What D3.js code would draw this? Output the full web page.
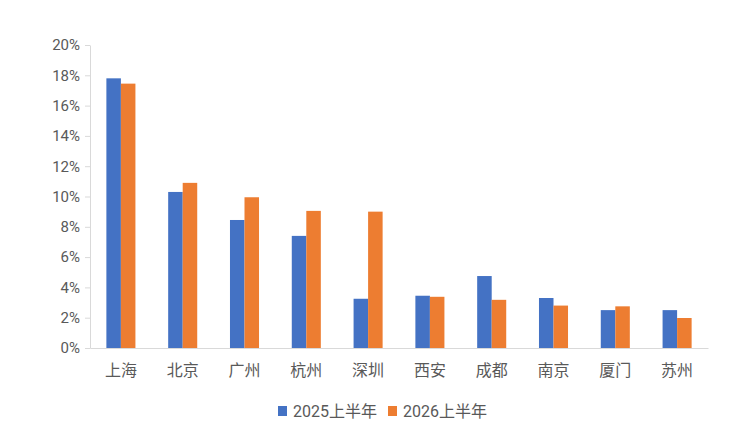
<!DOCTYPE html>
<html>
<head>
<meta charset="utf-8">
<script src="https://cdn.jsdelivr.net/npm/d3@7"></script>
<style>
  body { margin: 0; background: #fff; }
  text { font-family: Roboto, "Noto Sans CJK SC", sans-serif; fill: #595959; }
</style>
</head>
<body>
<div id="chart"></div>
<script>
// data
const cities = ['上海', '北京', '广州', '杭州', '深圳', '西安', '成都', '南京', '厦门', '苏州'];
const series = ['2025上半年', '2026上半年'];
const h1_2025 = [17.8, 10.3, 8.45, 7.4, 3.25, 3.45, 4.75, 3.3, 2.5, 2.5];
const h1_2026 = [17.45, 10.9, 9.95, 9.05, 9.0, 3.38, 3.18, 2.8, 2.75, 1.98];
const yTicks = [0, 2, 4, 6, 8, 10, 12, 14, 16, 18, 20];
const colors = ['#4472C4', '#ED7D31'];

const dms = { width: 740, height: 434, margin: { top: 45, right: 32, bottom: 86, left: 90 } };
dms.contentWidth = dms.width - dms.margin.left - dms.margin.right;
dms.contentHeight = dms.height - dms.margin.top - dms.margin.bottom;

const svg = d3.select('#chart').append('svg')
    .attr('width', dms.width)
    .attr('height', dms.height);

const content = svg.append('g')
    .attr('transform', `translate(${dms.margin.left},${dms.margin.top})`);

const x = d3.scaleBand().domain(cities).range([0, dms.contentWidth]).paddingInner(0.53).paddingOuter(0.265);
const xSub = d3.scaleBand().domain(series).range([0, x.bandwidth()]);
const y = d3.scaleLinear().domain([0, 20]).range([dms.contentHeight, 0]);

const rows = cities.map((c, i) => ({ city: c, vals: [h1_2025[i], h1_2026[i]] }));

// y axis
const yAxis = content.append('g')
    .call(d3.axisLeft(y).tickValues(yTicks).tickFormat(d => d + '%').tickSize(5).tickSizeOuter(0));
yAxis.select('.domain').attr('stroke', '#d9d9d9');
yAxis.selectAll('.tick line').attr('stroke', '#d9d9d9');
yAxis.selectAll('.tick text').attr('x', -10).style('font-size', '15px').attr('fill', '#595959');

// bars
const groups = content.selectAll('.city')
    .data(rows)
    .join('g')
    .attr('class', 'city')
    .attr('transform', d => `translate(${x(d.city)},0)`);

groups.selectAll('rect')
    .data(d => d.vals.map((v, k) => ({ key: series[k], v: v, k: k })))
    .join('rect')
    .attr('x', d => xSub(d.key))
    .attr('width', xSub.bandwidth())
    .attr('y', d => y(d.v))
    .attr('height', d => y(0) - y(d.v))
    .attr('fill', d => colors[d.k]);

// x axis
const xAxis = content.append('g')
    .attr('transform', `translate(0,${dms.contentHeight})`)
    .call(d3.axisBottom(x).tickSize(0).tickSizeOuter(0));
xAxis.select('.domain').attr('stroke', '#d9d9d9');
xAxis.selectAll('.tick text').attr('dy', '1.2em').attr('y', 9).style('font-size', '16px').attr('fill', '#595959');

// legend
const legend = svg.append('g').attr('transform', 'translate(278,411)');
const items = [{ label: series[0], x: 0 }, { label: series[1], x: 110 }];
items.forEach((d, k) => {
    const it = legend.append('g').attr('transform', `translate(${d.x},0)`);
    it.append('rect').attr('x', 0).attr('y', -5).attr('width', 9).attr('height', 10).attr('fill', colors[k]);
    it.append('text').attr('x', 15).attr('dy', '0.36em').style('font-size', '16px').text(d.label);
});
</script>
</body>
</html>
